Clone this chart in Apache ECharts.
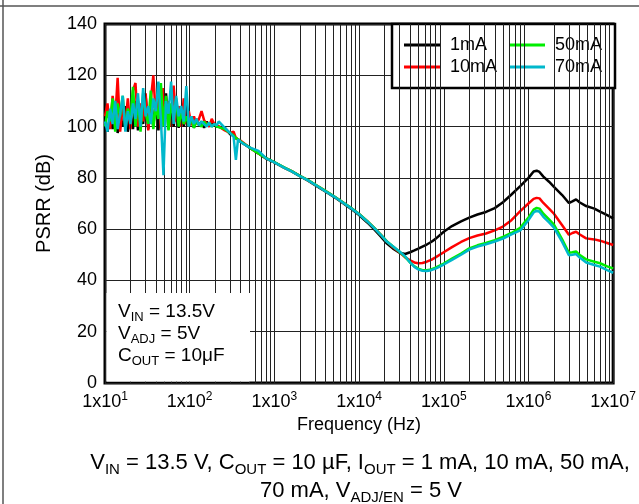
<!DOCTYPE html>
<html>
<head>
<meta charset="utf-8">
<script src="https://cdn.jsdelivr.net/npm/echarts@6/dist/echarts.min.js"></script>
<style>
html,body{margin:0;padding:0;background:#fff;}
#chart{width:639px;height:504px;}
</style>
</head>
<body>
<div id="chart"></div>
<script>
// ---------- data ----------
const seriesNames = ['1mA', '10mA', '50mA', '70mA'];
const seriesColors = ['#000000', '#ff0000', '#00ee00', '#00b8cc'];

// low-frequency (noisy) region, Hz
const freqLow = [10, 10.7, 11.5, 12.3, 13.2, 14.1, 15.1, 16.2, 17.4, 18.6, 20, 21.4, 22.9, 24.5, 26.3, 28.2, 30.2, 32.4, 34.7, 37.2, 39.8, 42.7, 45.7, 49, 52.5, 56.2, 60.3, 64.6, 69.2, 74.1, 79.4, 85.1, 91.2, 97.7, 104.7, 112.2, 120.2, 128.8, 138, 147.9, 158.5, 169.8, 182, 195, 209];
const low1mA  = [101, 98, 104, 99, 106, 97.5, 103, 100, 108, 98, 105, 99, 110, 98.5, 106, 101, 112, 99, 107, 100, 111, 98.5, 109, 101, 113, 99, 106, 100, 108, 99.5, 105, 100, 106, 100, 104, 99.5, 103, 100.5, 102, 99.5, 102, 100, 101.5, 100.5, 100];
const low10mA = [104, 109, 99, 112, 103, 119, 98, 108, 101, 111, 99, 114, 117, 100, 109, 102, 113, 98.5, 110, 120, 104, 112, 99, 115, 103, 110, 100, 116, 102, 108, 100, 111, 101, 106, 100.5, 104, 101, 103, 106, 102.5, 101, 100, 103, 101, 100.5];
const low50mA = [100, 106, 102, 111, 98, 109, 104, 112, 99, 107, 103, 115.5, 100, 110, 98, 113, 105, 101, 114, 99, 108, 103, 117, 100, 112, 98.5, 109, 104, 111, 100, 106, 101, 104, 100.5, 103, 99.5, 102, 101, 100, 102, 100.5, 101.5, 100, 101, 100];
const low70mA = [102, 98, 107, 101, 110, 99, 105, 112, 98, 106, 101, 109, 103, 113, 100, 115, 104, 108, 101, 111, 106, 117.5, 103, 81, 110, 105, 117.5, 101, 112, 104, 108, 102, 115.8, 100, 104, 101, 103, 100.5, 102, 101, 100, 101.5, 100, 101, 100.5];

// mid / high-frequency region, Hz
const freqHigh = [220, 260, 300, 330, 351, 372, 400, 500, 650, 800, 1000, 1300, 1600, 2000, 2500, 3200, 4000, 5000, 6300, 8000, 10000, 12500, 15000, 18000, 21000, 25000, 30000, 35000, 40000, 45000, 50000, 56000, 63000, 71000, 80000, 100000, 125000, 160000, 200000, 250000, 315000, 400000, 500000, 630000, 800000, 1000000, 1150000, 1250000, 1350000, 1500000, 1750000, 2000000, 2500000, 3000000, 3300000, 3650000, 4000000, 4800000, 6000000, 7000000, 8500000, 10000000];
const high1mA  = [100, 99.5, 97, 96.5, 95.5, 95, 94, 92, 89.5, 87.5, 86, 84, 82.5, 80.7, 78.9, 76.7, 74.7, 72.7, 70.4, 68, 65.5, 62.6, 60, 57.2, 54.6, 52.5, 50.8, 50.3, 51, 51.7, 52.4, 53.2, 54, 55, 56.2, 59, 61.2, 63, 64.5, 65.7, 66.7, 68.2, 70.5, 73.5, 76.8, 80, 82.5, 82.8, 82.3, 80.5, 78.5, 76.5, 73.3, 70.2, 70.8, 71.6, 70.5, 69, 68, 66.8, 65.5, 64.2];
const high10mA = [101, 98.5, 97.5, 98, 95.5, 95, 94.5, 92, 89.5, 87.7, 86, 84, 82.6, 80.8, 79, 76.9, 74.9, 72.9, 70.7, 68.3, 65.9, 63.1, 60.6, 57.9, 55.4, 53, 51, 49, 47.8, 47, 46.7, 46.8, 47.3, 48, 49, 51, 53, 55, 56.5, 57.5, 58.3, 59.5, 61, 63.5, 67, 70, 71.8, 72.2, 72, 70.2, 68, 66, 61.5, 57.8, 58.5, 59, 58, 56.4, 56, 55.5, 54.6, 53.8];
const high50mA = [100, 99, 97.5, 96.5, 95.5, 95, 94.2, 92, 89.5, 87.7, 86.1, 84.1, 82.6, 80.8, 79.1, 76.9, 74.9, 72.9, 70.7, 68.3, 65.9, 63.1, 60.6, 57.9, 55.4, 53.3, 51.2, 49.2, 47, 45.5, 44.6, 44, 44, 44.3, 45, 46.6, 48.5, 50.5, 52.5, 53.7, 54.6, 55.7, 57, 58.5, 60.5, 64.5, 67.6, 68.3, 68, 66, 63.8, 61.8, 56, 50.8, 51, 51.3, 50, 48.2, 47.3, 46.7, 45.5, 44.7];
const high70mA = [102, 99.5, 97.5, 96, 87, 95, 94, 92, 90.5, 87.6, 86, 84, 82.5, 80.7, 79, 76.8, 74.8, 72.8, 70.6, 68.2, 65.8, 63, 60.5, 57.8, 55.3, 53.3, 51.3, 49.4, 47, 45.3, 44.3, 43.8, 43.7, 44, 44.6, 46.2, 48, 50, 52, 53.2, 54.1, 55.2, 56.3, 58, 59.5, 63.5, 66.5, 67.2, 66.8, 64.8, 62.6, 60.6, 55, 49.8, 50, 50.3, 49, 47, 46, 45.4, 44, 43];

const yTicks = [0, 20, 40, 60, 80, 100, 120, 140];
const decades = [10, 100, 1000, 10000, 100000, 1000000];
const minorMultipliers = [2, 3, 4, 5, 6, 7, 8, 9];

// ---------- build ----------
const FONT = "'Liberation Sans', Arial, Helvetica, sans-serif";
function pairs(fx, vy) { return fx.map((f, i) => [f, vy[i]]); }
const lowSets = [low1mA, low10mA, low50mA, low70mA];
const highSets = [high1mA, high10mA, high50mA, high70mA];

const minorGrid = [];
decades.forEach(d => minorMultipliers.forEach(m => minorGrid.push({ xAxis: d * m })));

const dataSeries = seriesNames.map((name, i) => ({
  name: name,
  type: 'line',
  showSymbol: false,
  symbol: 'none',
  z: 3 + i,
  lineStyle: { color: seriesColors[i], width: 2.5 },
  itemStyle: { color: seriesColors[i] },
  data: pairs(freqLow, lowSets[i]).concat(pairs(freqHigh, highSets[i])),
  animation: false
}));

const gridSeries = {
  name: 'grid',
  type: 'line',
  data: [],
  z: 1,
  silent: true,
  markLine: {
    silent: true,
    symbol: ['none', 'none'],
    label: { show: false },
    animation: false,
    lineStyle: { color: '#222', width: 1, type: 'solid' },
    data: minorGrid
  }
};

const richText = {
  a: { fontSize: 19, fontFamily: FONT, color: '#000', lineHeight: 24 },
  b: { fontSize: 13, fontFamily: FONT, color: '#000', lineHeight: 15, verticalAlign: 'bottom' }
};
const richCap = {
  n: { fontSize: 22, fontFamily: FONT, color: '#000', lineHeight: 28 },
  s: { fontSize: 15, fontFamily: FONT, color: '#000', lineHeight: 18, verticalAlign: 'bottom' }
};

const chart = echarts.init(document.getElementById('chart'), null, { renderer: 'canvas' });
chart.setOption({
  animation: false,
  backgroundColor: '#fff',
  grid: { left: 105, right: 24, top: 24, bottom: 121, show: true, borderColor: '#000', borderWidth: 3, backgroundColor: 'transparent' },
  xAxis: {
    type: 'log', logBase: 10, min: 10, max: 10000000,
    name: 'Frequency (Hz)', nameLocation: 'middle', nameGap: 31,
    nameTextStyle: { fontSize: 18, fontFamily: FONT, color: '#000' },
    axisLine: { show: false }, axisTick: { show: false },
    splitLine: { show: true, lineStyle: { color: '#222', width: 1 } },
    axisLabel: {
      margin: 8, interval: 0, showMinLabel: true, showMaxLabel: true,
      formatter: function (v) { return '{b|1x10}{p|' + Math.round(Math.log10(v)) + '}'; },
      rich: {
        b: { fontSize: 18, fontFamily: FONT, color: '#000', lineHeight: 22 },
        p: { fontSize: 12, fontFamily: FONT, color: '#000', lineHeight: 12, verticalAlign: 'top' }
      }
    }
  },
  yAxis: {
    type: 'value', min: yTicks[0], max: yTicks[yTicks.length - 1], interval: 20,
    name: 'PSRR (dB)', nameLocation: 'middle', nameGap: 51, nameRotate: 90,
    nameTextStyle: { fontSize: 20, fontFamily: FONT, color: '#000' },
    axisLine: { show: false }, axisTick: { show: false },
    splitLine: { show: true, lineStyle: { color: '#222', width: 1 } },
    axisLabel: { margin: 8, fontSize: 18, fontFamily: FONT, color: '#000' }
  },
  legend: {
    data: ['1mA', '10mA', '50mA', '70mA'],
    orient: 'vertical',
    left: 392, top: 24, height: 44,
    padding: [10, 1, 10, 12],
    itemGap: 0, itemWidth: 36, itemHeight: 3, icon: 'rect',
    backgroundColor: '#fff', borderColor: '#000', borderWidth: 2.5,
    textStyle: { fontSize: 18, fontFamily: FONT, color: '#000', lineHeight: 22, width: 59, padding: [0, 0, 0, 5] }
  },
  series: [gridSeries].concat(dataSeries),
  graphic: [
    { type: 'line', z: 100, shape: { x1: 3, y1: 0, x2: 3, y2: 504 }, style: { stroke: '#555', lineWidth: 1.5 } },
    { type: 'line', z: 100, shape: { x1: 0, y1: 6, x2: 639, y2: 6 }, style: { stroke: '#555', lineWidth: 1.5 } },
    { type: 'rect', z: 100, shape: { x: 106.5, y: 293, width: 143.5, height: 88.5 }, style: { fill: '#fff' } },
    { type: 'text', z: 101, style: { x: 118, y: 312, text: '{a|V}{b|IN}{a| = 13.5V}', rich: richText, verticalAlign: 'middle', align: 'left' } },
    { type: 'text', z: 101, style: { x: 118, y: 334, text: '{a|V}{b|ADJ}{a| = 5V}', rich: richText, verticalAlign: 'middle', align: 'left' } },
    { type: 'text', z: 101, style: { x: 118, y: 356, text: '{a|C}{b|OUT}{a| = 10μF}', rich: richText, verticalAlign: 'middle', align: 'left' } },
    { type: 'text', z: 101, style: { x: 360, y: 463, text: '{n|V}{s|IN}{n| = 13.5 V, C}{s|OUT}{n| = 10 µF, I}{s|OUT}{n| = 1 mA, 10 mA, 50 mA,}', rich: richCap, verticalAlign: 'middle', align: 'center' } },
    { type: 'text', z: 101, style: { x: 361, y: 491, text: '{n|70 mA, V}{s|ADJ/EN}{n| = 5 V}', rich: richCap, verticalAlign: 'middle', align: 'center' } }
  ]
});
</script>
</body>
</html>
